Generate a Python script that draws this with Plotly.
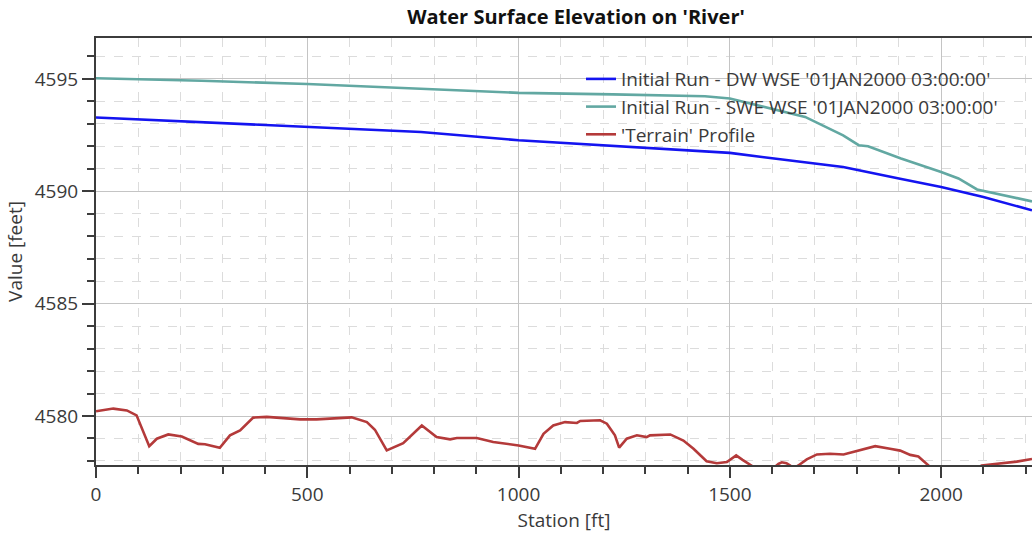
import plotly.graph_objects as go

# ---- data ----
dw_station = [0, 250, 500, 769, 1000, 1250, 1500, 1600, 1768, 1900, 2000, 2100, 2185, 2215]
dw_wse = [4593.28, 4593.08, 4592.87, 4592.64, 4592.27, 4591.99, 4591.71, 4591.47, 4591.08,
          4590.57, 4590.19, 4589.75, 4589.30, 4589.15]

swe_station = [0, 250, 500, 769, 1000, 1223, 1441, 1500, 1585, 1678, 1768, 1791, 1805, 1827,
               1905, 2000, 2041, 2085, 2131, 2186, 2215]
swe_wse = [4595.03, 4594.92, 4594.77, 4594.57, 4594.38, 4594.31, 4594.23, 4594.13, 4593.73,
           4593.31, 4592.49, 4592.20, 4592.05, 4592.00, 4591.46, 4590.86, 4590.57, 4590.08,
           4589.90, 4589.67, 4589.55]

terrain_station = [0, 41, 73, 96, 126, 144, 171, 203, 242, 258, 293, 317, 341, 372, 404, 443,
                   483, 522, 562, 605, 641, 660, 688, 727, 771, 806, 838, 854, 901, 940, 1000,
                   1039, 1059, 1082, 1110, 1138, 1146, 1193, 1209, 1228, 1238, 1256, 1280, 1303,
                   1311, 1359, 1390, 1414, 1445, 1469, 1493, 1515, 1530, 1552, 1575, 1598, 1615,
                   1623, 1634, 1644, 1653, 1662, 1682, 1706, 1737, 1769, 1808, 1844, 1879, 1903,
                   1927, 1946, 1970, 2000, 2040, 2070, 2096, 2140, 2179, 2215]
terrain_elev = [4580.21, 4580.33, 4580.25, 4580.03, 4578.66, 4578.99, 4579.18, 4579.09, 4578.76,
                4578.74, 4578.59, 4579.14, 4579.36, 4579.93, 4579.96, 4579.91, 4579.85, 4579.85,
                4579.90, 4579.94, 4579.73, 4579.39, 4578.47, 4578.79, 4579.58, 4579.06, 4578.96,
                4579.02, 4579.02, 4578.84, 4578.69, 4578.54, 4579.21, 4579.58, 4579.73, 4579.69,
                4579.78, 4579.81, 4579.66, 4579.14, 4578.59, 4578.99, 4579.14, 4579.06, 4579.14,
                4579.18, 4578.91, 4578.54, 4577.99, 4577.90, 4577.95, 4578.25, 4578.05, 4577.80,
                4577.50, 4577.60, 4577.87, 4577.94, 4577.90, 4577.78, 4577.70, 4577.80, 4578.07,
                4578.29, 4578.32, 4578.29, 4578.49, 4578.66, 4578.54, 4578.46, 4578.27, 4578.20,
                4577.80, 4577.40, 4577.30, 4577.50, 4577.80, 4577.90, 4577.97, 4578.09]

series_names = ["Initial Run - DW WSE '01JAN2000 03:00:00'",
                "Initial Run - SWE WSE '01JAN2000 03:00:00'",
                "'Terrain' Profile"]
series_colors = ["#1414f0", "#62a8a2", "#b43a3a"]

x_range = [0, 2215]
y_range = [4577.82, 4596.82]

FONT = "Open Sans"
TXT = "#3a3a3a"

W, H = 1032, 537

fig = go.Figure()
for xs, ys, name, col in [(dw_station, dw_wse, series_names[0], series_colors[0]),
                          (swe_station, swe_wse, series_names[1], series_colors[1]),
                          (terrain_station, terrain_elev, series_names[2], series_colors[2])]:
    fig.add_trace(go.Scatter(x=xs, y=ys, mode="lines", name=name,
                             line=dict(color=col, width=2.6)))

axis_common = dict(
    showline=True, linecolor="#3c3c3c", linewidth=2,
    ticks="outside", tickcolor="#3c3c3c", tickwidth=2,
    showgrid=True, gridcolor="#c4c4c4", gridwidth=1,
    zeroline=False,
    tickfont=dict(family=FONT, size=19, color=TXT),
)

fig.update_xaxes(
    **axis_common,
    range=x_range, dtick=500, tick0=0, ticklen=11,
    mirror=True,
    minor=dict(dtick=100, tick0=0, ticks="outside", ticklen=7, tickcolor="#3c3c3c",
               tickwidth=2, showgrid=True, gridcolor="#dcdcdc", griddash="dash", gridwidth=1),
    title=dict(text="Station [ft]", font=dict(family=FONT, size=19, color=TXT), standoff=5),
)
fig.update_yaxes(
    **axis_common,
    range=y_range, dtick=5, tick0=4580, ticklen=12,
    minor=dict(dtick=1, tick0=4580, ticks="outside", ticklen=7, tickcolor="#3c3c3c",
               tickwidth=2, showgrid=True, gridcolor="#dcdcdc", griddash="dash", gridwidth=1),
    title=dict(text="Value [feet]", font=dict(family=FONT, size=19, color=TXT), standoff=7),
)

fig.update_layout(
    width=W, height=H,
    margin=dict(l=96, r=0, t=38, b=72),
    paper_bgcolor="white", plot_bgcolor="white",
    title=dict(text="<b>Water Surface Elevation on 'River'</b>",
               font=dict(family=FONT, size=20, color="#111111"),
               xref="container", x=576 / W, xanchor="center",
               yref="container", y=1 - 17 / H, yanchor="middle"),
    legend=dict(x=(581 - 96) / 936, y=1 - (60 - 38) / 426, xanchor="left", yanchor="top",
                bgcolor="rgba(0,0,0,0)", borderwidth=0,
                font=dict(family=FONT, size=19, color=TXT),
                itemwidth=30, tracegroupgap=0),
    showlegend=True,
)

fig.write_html("out.html",
               config={"displayModeBar": False},
               post_script="document.body.style.margin='0px';document.body.style.overflow='hidden';")
